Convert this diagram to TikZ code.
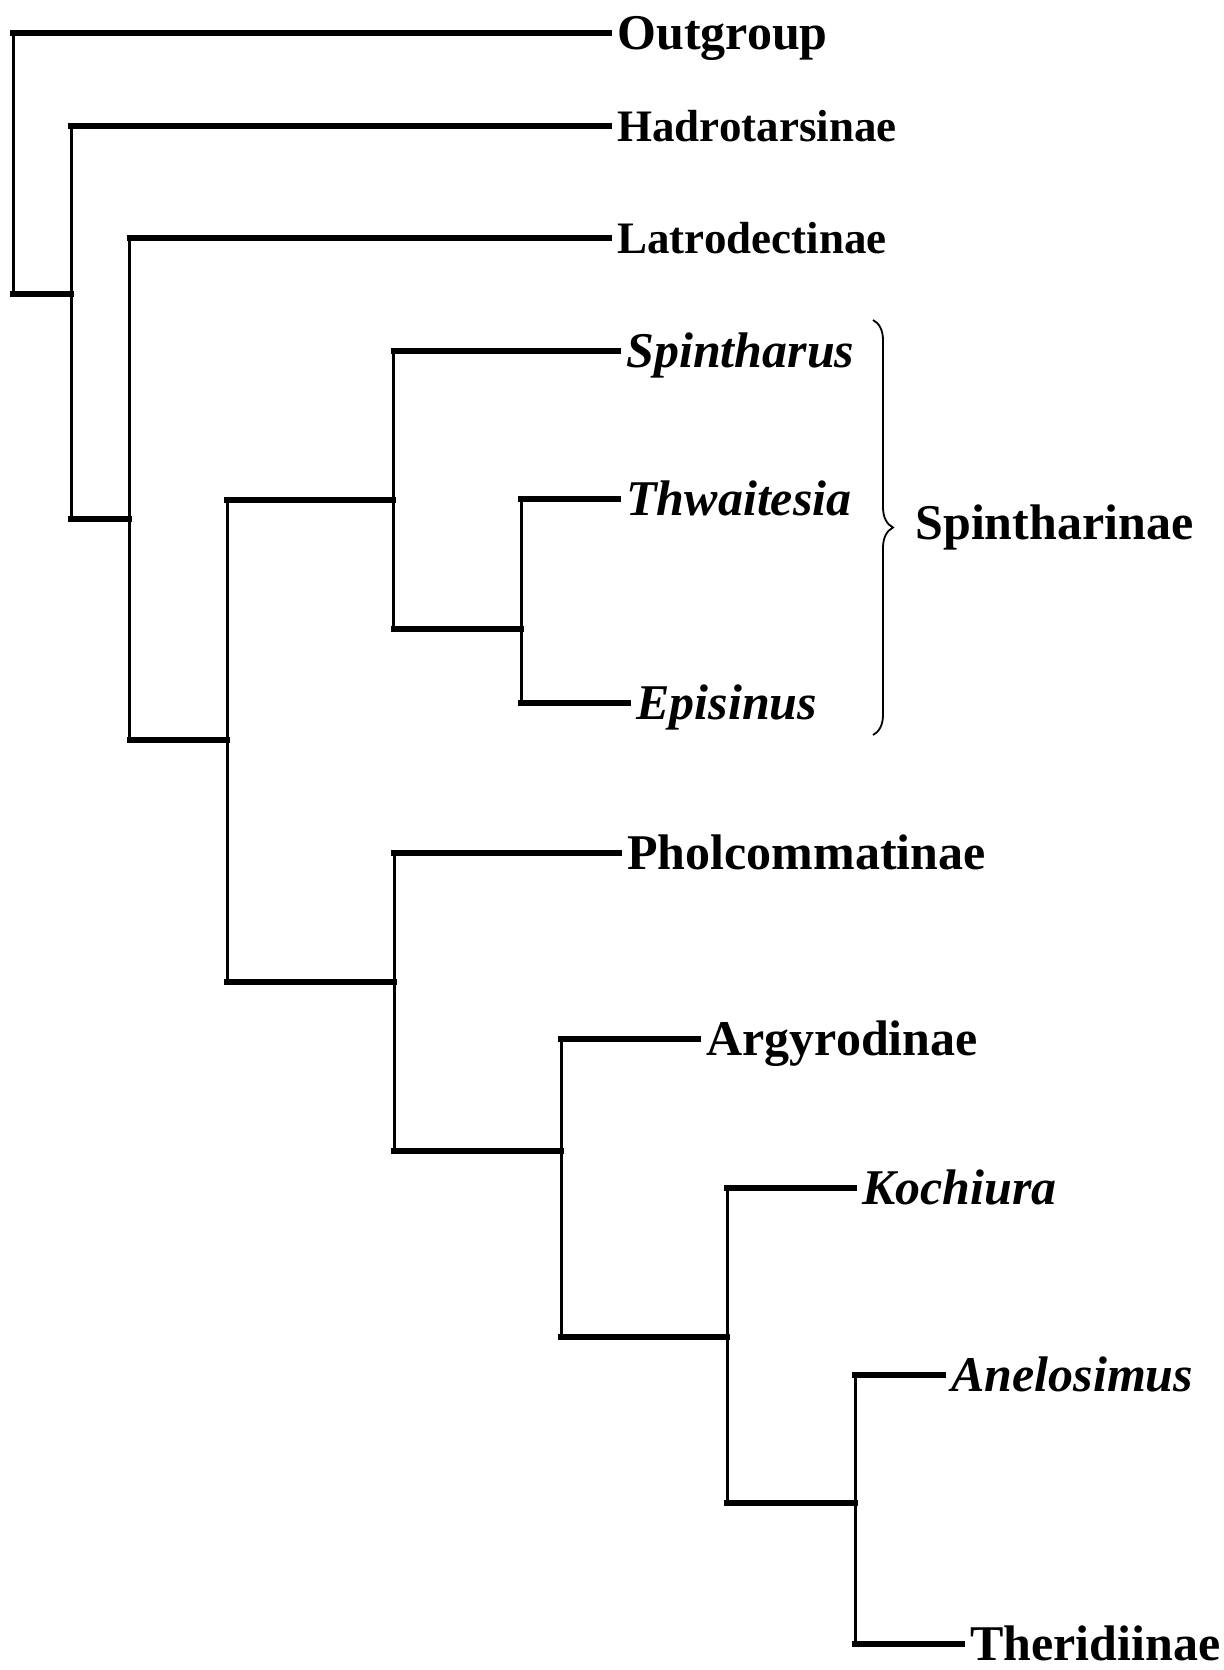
\documentclass[tikz,border=0pt]{standalone}
\usepackage{fontspec}
\setmainfont{Liberation Serif}
\usetikzlibrary{positioning, decorations.pathreplacing}

\begin{document}
\begin{tikzpicture}
  [
    x = 0.5pt, y = -0.5pt,
    hbranch/.style = {line width=2.6pt, line cap=rect},
    vbranch/.style = {line width=1.5pt},
    every node/.style = {anchor=west, inner xsep=4pt, inner ysep=0pt,
                         text height=16.5pt, text depth=0pt,
                         font=\fontsize{25}{30}\selectfont\bfseries},
    genus/.style = {font=\fontsize{25}{30}\selectfont\bfseries\itshape},
    subfam/.style = {text height=15pt,
                     font=\fontsize{22.5}{27}\selectfont\bfseries}
  ]
  \useasboundingbox (0,0) rectangle (1224,1670);

  % inner nodes: x of the bar, y of the stem
  \coordinate (Root) at (13,160);
  \coordinate (A) at (71,294);
  \coordinate (B) at (129.5,519);
  \coordinate (C) at (227,740);
  \coordinate (D) at (393.5,500);
  \coordinate (E) at (521,629);
  \coordinate (F) at (394,982);
  \coordinate (G) at (561,1151);
  \coordinate (H) at (727,1337);
  \coordinate (I) at (855,1503);

  % taxa
  \node (Out) at (609,33) {Outgroup};
  \node [subfam] (Had) at (609,126) {Hadrotarsinae};
  \node [subfam] (Lat) at (609,238) {Latrodectinae};
  \node [genus] (Spi) at (618,351) {Spintharus};
  \node [genus] (Thw) at (618,499) {Thwaitesia};
  \node [genus] (Epi) at (628,703) {Episinus};
  \node (Pho) at (619,853) {Pholcommatinae};
  \node (Arg) at (698,1039) {Argyrodinae};
  \node [genus] (Koc) at (854,1188) {Kochiura};
  \node [genus] (Ane) at (943,1375) {Anelosimus};
  \node (The) at (962,1644) {Theridiinae};

  % bars
  \draw [vbranch] (Root |- Out.west) -- (Root |- A);
  \draw [vbranch] (A |- Had.west) -- (A |- B);
  \draw [vbranch] (B |- Lat.west) -- (B |- C);
  \draw [vbranch] (C |- D) -- (C |- F);
  \draw [vbranch] (D |- Spi.west) -- (D |- E);
  \draw [vbranch] (E |- Thw.west) -- (E |- Epi.west);
  \draw [vbranch] (F |- Pho.west) -- (F |- G);
  \draw [vbranch] (G |- Arg.west) -- (G |- H);
  \draw [vbranch] (H |- Koc.west) -- (H |- I);
  \draw [vbranch] (I |- Ane.west) -- (I |- The.west);

  % branches
  \draw [hbranch] (Root |- Out.west) -- (Out.west);
  \draw [hbranch] (Root |- A) -- (A);
  \draw [hbranch] (A |- Had.west) -- (Had.west);
  \draw [hbranch] (A |- B) -- (B);
  \draw [hbranch] (B |- Lat.west) -- (Lat.west);
  \draw [hbranch] (B |- C) -- (C);
  \draw [hbranch] (C |- D) -- (D);
  \draw [hbranch] (C |- F) -- (F);
  \draw [hbranch] (D |- Spi.west) -- (Spi.west);
  \draw [hbranch] (D |- E) -- (E);
  \draw [hbranch] (E |- Thw.west) -- (Thw.west);
  \draw [hbranch] (E |- Epi.west) -- (Epi.west);
  \draw [hbranch] (F |- Pho.west) -- (Pho.west);
  \draw [hbranch] (F |- G) -- (G);
  \draw [hbranch] (G |- Arg.west) -- (Arg.west);
  \draw [hbranch] (G |- H) -- (H);
  \draw [hbranch] (H |- Koc.west) -- (Koc.west);
  \draw [hbranch] (H |- I) -- (I);
  \draw [hbranch] (I |- Ane.west) -- (Ane.west);
  \draw [hbranch] (I |- The.west) -- (The.west);

  % Spintharinae brace
  \coordinate (BrTop) at (873,320);
  \coordinate (BrBot) at (873,735);
  \draw [line width=0.9pt, decorate, decoration={brace, amplitude=10pt}]
    (BrTop) -- (BrBot);
  \node (Spn) at (907,523) {Spintharinae};
\end{tikzpicture}
\end{document}
